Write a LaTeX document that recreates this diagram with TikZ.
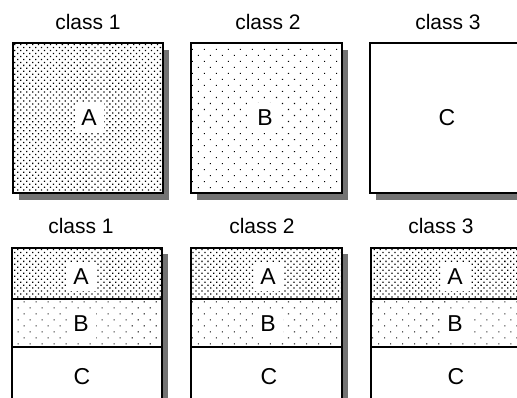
\documentclass[tikz,border=0pt]{standalone}
\usepackage{fontspec}
\setmainfont{Liberation Sans}
\usetikzlibrary{patterns.meta}
\begin{document}
\begin{tikzpicture}[x=1pt,y=-1pt,
  box/.style={line width=1.3pt, draw=black},
  shadowfill/.style={fill=black!55},
  dense/.style={pattern={Dots[distance=4.2pt,angle=45,radius=0.9pt]}},
  sparse/.style={pattern={Dots[distance=8.5pt,angle=45,radius=0.75pt]}},
  lab/.style={font=\fontsize{21}{24}\selectfont, inner sep=0pt},
  let/.style={font=\fontsize{23}{26}\selectfont, fill=white, minimum size=29pt, inner sep=0pt},
  plain/.style={font=\fontsize{23}{26}\selectfont, inner sep=0pt},
]
\useasboundingbox (0,0) rectangle (517,398);
\clip (0,0) rectangle (517,398);
\fill[white] (0,0) rectangle (517,398);

% ---- top row ----
% box 1
\fill[shadowfill] (19,50) rectangle (169,200);
\fill[white] (13,43) rectangle (163,193);
\fill[dense] (13,43) rectangle (163,193);
\draw[box] (13,43) rectangle (163,193);
\node[let] (tA) at (89,118) {A};
\node[lab] (tc1) at (88,22) {class 1};
% box 2
\fill[shadowfill] (197,50) rectangle (348,200);
\fill[white] (191,43) rectangle (342,193);
\fill[sparse] (191,43) rectangle (342,193);
\draw[box] (191,43) rectangle (342,193);
\node[let] (tB) at (265,118) {B};
\node[lab] (tc2) at (268,22) {class 2};
% box 3
\fill[shadowfill] (376,50) rectangle (528,200);
\fill[white] (370,43) rectangle (522,193);
\draw[box] (370,43) rectangle (522,193);
\node[plain] (tC) at (447,118) {C};
\node[lab] (tc3) at (448,22) {class 3};

% ---- bottom row ----
% box 1
\fill[shadowfill] (168,254) rectangle (162,410);
\fill[white] (12,248) rectangle (162,410);
\fill[dense] (12,248) rectangle (162,299);
\fill[sparse] (12,299) rectangle (162,347);
\draw[box] (12,248) rectangle (162,410);
\draw[box] (12,299) -- (162,299);
\draw[box] (12,347) -- (162,347);
\node[let] (b1A) at (81,277) {A};
\node[let] (b1B) at (81,324) {B};
\node[plain] (b1C) at (82,377) {C};
\node[lab] (bc1) at (81,226) {class 1};
% box 2
\fill[shadowfill] (348,254) rectangle (342,410);
\fill[white] (191,248) rectangle (342,410);
\fill[dense] (191,248) rectangle (342,299);
\fill[sparse] (191,299) rectangle (342,347);
\draw[box] (191,248) rectangle (342,410);
\draw[box] (191,299) -- (342,299);
\draw[box] (191,347) -- (342,347);
\node[let] (b2A) at (268,277) {A};
\node[let] (b2B) at (268,324) {B};
\node[plain] (b2C) at (269,377) {C};
\node[lab] (bc2) at (262,226) {class 2};
% box 3
\fill[white] (371,248) rectangle (522,410);
\fill[dense] (371,248) rectangle (522,299);
\fill[sparse] (371,299) rectangle (522,347);
\draw[box] (371,248) rectangle (522,410);
\draw[box] (371,299) -- (522,299);
\draw[box] (371,347) -- (522,347);
\node[let] (b3A) at (455,277) {A};
\node[let] (b3B) at (455,324) {B};
\node[plain] (b3C) at (456,377) {C};
\node[lab] (bc3) at (441,226) {class 3};
\end{tikzpicture}
\end{document}
